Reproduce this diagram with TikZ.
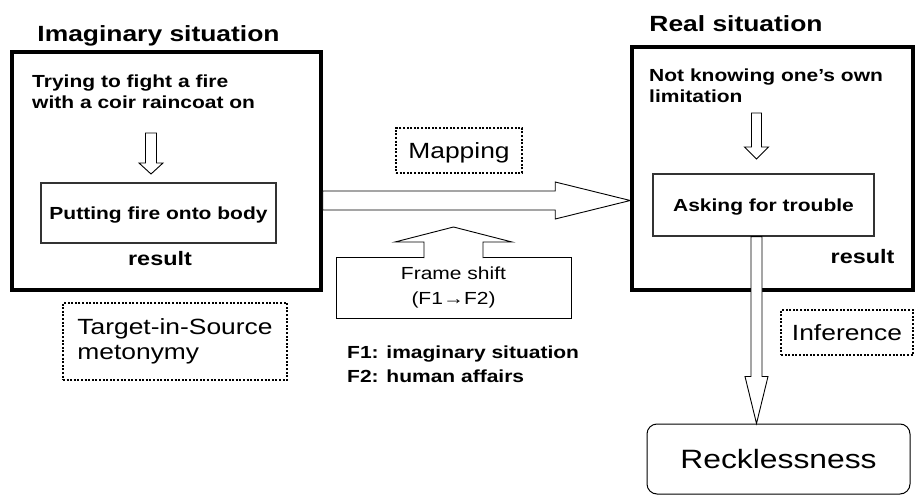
\documentclass[tikz,border=0pt]{standalone}
\usepackage{fontspec}
\setmainfont{Liberation Sans}[FakeStretch=1.2]
\usetikzlibrary{positioning}
\usetikzlibrary{calc}

% outlined block arrow: [closing] from, to, half shaft, half head, head length
\newcommand\hollowarrow[6][-- cycle]{%
 \coordinate (hb) at ($(#3)!#6!(#2)$);
 \draw[hollow] ($(#2)!#4!90:(#3)$) -- ($(hb)!#4!90:(#3)$) -- ($(hb)!#5!90:(#3)$)
 -- (#3) -- ($(hb)!#5!-90:(#3)$) -- ($(hb)!#4!-90:(#3)$) -- ($(#2)!#4!-90:(#3)$) #1;
}

\begin{document}
\begin{tikzpicture}[
 x=1pt, y=-1pt,
 frame/.style={rectangle, draw=black, line width=3.5pt},
 title/.style={font=\bfseries\fontsize{22}{26}\selectfont, inner sep=0pt},
 lead/.style={font=\bfseries\fontsize{17.5}{21.5}\selectfont, align=left, anchor=north west, inner sep=0pt},
 event/.style={rectangle, draw=black!80, line width=1.3pt, font=\bfseries\fontsize{17.5}{21}\selectfont, text depth=0pt},
 outcome/.style={font=\bfseries\fontsize{19.5}{23}\selectfont, inner sep=0pt, anchor=base},
 tag/.style={rectangle, draw=black, line width=2pt, dash pattern=on 2pt off 1.6pt, font=\fontsize{22}{25}\selectfont},
 hollow/.style={draw=black, fill=white, line width=0.9pt, line join=miter}
]
\useasboundingbox (0,0) rectangle (916,495);

% Imaginary situation
\node[frame, minimum width=309pt, minimum height=238pt] (imagbox) at (166.5,171) {};
\node[title, anchor=base] (imagtitle) at (158.5,41.7) {Imaginary situation};
\node[lead] (trytext) at (32,74.5) {Trying to fight a fire\\with a coir raincoat on};
\node[event, minimum width=235pt, minimum height=60pt] (putting) at (158.5,213) {Putting fire onto body};
\node[outcome] (imagresult) at (160,265) {result};
\coordinate (trytop) at (151,133);
\coordinate (trytip) at (151,174);
\hollowarrow{trytop}{trytip}{5.5pt}{12pt}{11pt}

% Real situation
\node[frame, minimum width=281pt, minimum height=243pt] (realbox) at (772.5,168.5) {};
\node[title, anchor=base] (realtitle) at (736,31.7) {Real situation};
\node[lead] (nottext) at (649,68.2) {Not knowing one’s own\\limitation};
\node[event, minimum width=221pt, minimum height=62pt] (asking) at (763.5,205) {Asking for trouble};
\node[outcome] (realresult) at (862.5,263) {result};
\coordinate (nottop) at (756.5,113);
\coordinate (nottip) at (756.5,159);
\hollowarrow{nottop}{nottip}{5pt}{12pt}{12pt}

% Mapping between the two situations
\node[tag, minimum width=126pt, minimum height=45pt, text depth=0pt] (mapping) at (459,150.5) {Mapping};
\coordinate (mapfrom) at (imagbox.east |- 0,200.5);
\coordinate (mapto) at (realbox.west |- 0,200.5);
\hollowarrow{mapfrom}{mapto}{9.5pt}{18.5pt}{75pt}

% Frame shift
\node[rectangle, draw=black, line width=1pt, minimum width=235pt, minimum height=61pt,
 font=\fontsize{17.5}{25}\selectfont, align=center] (shift) at (453.5,287.5) {Frame shift\\(F1→F2)};
\coordinate (shiftfoot) at ($(shift.north)+(0,1.5)$);
\coordinate (shifttip) at (shift.north |- 0,227);
\hollowarrow[]{shiftfoot}{shifttip}{29.5pt}{58.5pt}{15pt}
\node[lead, font=\bfseries\fontsize{17.5}{24}\selectfont] (frames) at (347,346) {F1: imaginary situation\\F2: human affairs};

% Metonymy
\node[tag, minimum width=224pt, minimum height=77pt, align=left] (metonymy) at (175,341.5) {Target-in-Source\\metonymy};

% Inference
\node[tag, minimum width=132pt, minimum height=45pt, text depth=0pt] (inference) at (847,332.5) {Inference};
\node[rectangle, rounded corners=10pt, draw=black, line width=1pt, minimum width=263pt, minimum height=70pt,
 font=\fontsize{26.5}{30}\selectfont, text depth=0pt] (reckless) at (778.5,459) {Recklessness};
\coordinate (inffoot) at (756.5,0 |- asking.south);
\coordinate (inftip) at (inffoot |- reckless.north);
\hollowarrow{inffoot}{inftip}{5.5pt}{11.5pt}{47pt}
\end{tikzpicture}
\end{document}
